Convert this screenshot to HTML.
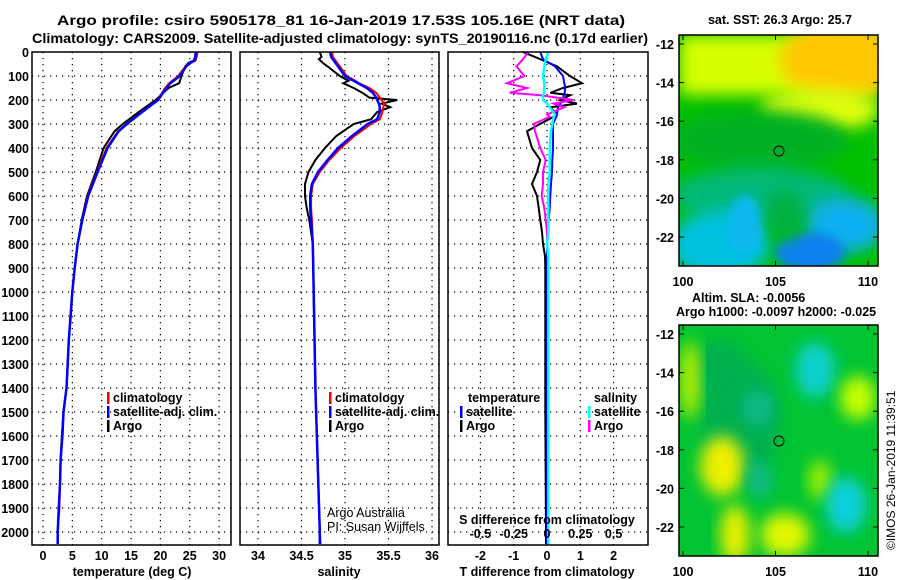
<!DOCTYPE html>
<html><head><meta charset="utf-8"><style>
html,body{margin:0;padding:0;background:#fff;}
svg{display:block;font-family:"Liberation Sans",Arial,sans-serif;}
.b{font-weight:bold;font-size:14px;}
.t{font-weight:bold;font-size:12.5px;}
</style></head><body>
<svg id="chart" width="900" height="580" viewBox="0 0 900 580">
<defs>
<filter id="blur8" x="-30%" y="-30%" width="160%" height="160%"><feGaussianBlur stdDeviation="8"/></filter>
<filter id="blur5" x="-30%" y="-30%" width="160%" height="160%"><feGaussianBlur stdDeviation="5"/></filter>
<clipPath id="m1"><rect x="679" y="35" width="199" height="231"/></clipPath>
<clipPath id="m2"><rect x="679" y="325" width="199" height="231"/></clipPath>
</defs>
<text x="57" y="25" class="b" textLength="568" lengthAdjust="spacingAndGlyphs">Argo profile: csiro 5905178_81 16-Jan-2019 17.53S 105.16E (NRT data)</text>
<text x="32" y="43" class="b" textLength="616" lengthAdjust="spacingAndGlyphs">Climatology: CARS2009. Satellite-adjusted climatology: synTS_20190116.nc (0.17d earlier)</text>
<g id="grid"></g>
<g id="lines"></g>
<g id="frames"></g>
<g id="labels"></g>

<!-- SST map -->
<g clip-path="url(#m1)">
<rect x="679" y="35" width="199" height="231" fill="#00c000"/>
<rect x="679" y="35" width="199" height="60" fill="#d8ff00" filter="url(#blur8)"/>
<ellipse cx="840" cy="60" rx="60" ry="40" fill="#ffc800" filter="url(#blur8)"/>
<ellipse cx="820" cy="110" rx="60" ry="22" fill="#e0ff10" filter="url(#blur8)"/>
<ellipse cx="760" cy="140" rx="90" ry="30" fill="#00b020" filter="url(#blur8)"/>
<ellipse cx="760" cy="195" rx="90" ry="28" fill="#00b878" filter="url(#blur8)"/>
<ellipse cx="720" cy="245" rx="50" ry="35" fill="#00c0e0" filter="url(#blur8)"/>
<ellipse cx="845" cy="225" rx="40" ry="28" fill="#10b0f0" filter="url(#blur8)"/>
<ellipse cx="810" cy="252" rx="35" ry="20" fill="#1080f0" filter="url(#blur5)"/>
<ellipse cx="745" cy="225" rx="18" ry="30" fill="#10b8f0" filter="url(#blur5)"/>
<ellipse cx="785" cy="215" rx="18" ry="25" fill="#00b040" filter="url(#blur8)"/>
</g>
<circle cx="779" cy="151" r="5" fill="none" stroke="#000" stroke-width="1"/>
<rect x="679" y="35" width="199" height="231" fill="none" stroke="#000" stroke-width="1.5"/>
<text x="780" y="24" text-anchor="middle" class="t">sat. SST: 26.3 Argo: 25.7</text>

<!-- SLA map -->
<g clip-path="url(#m2)">
<rect x="679" y="325" width="199" height="231" fill="#00c432"/>
<ellipse cx="740" cy="420" rx="40" ry="60" fill="#00b050" filter="url(#blur8)"/>
<ellipse cx="720" cy="370" rx="25" ry="30" fill="#00b050" filter="url(#blur8)"/>
<ellipse cx="815" cy="370" rx="20" ry="28" fill="#10d0d0" filter="url(#blur8)"/>
<ellipse cx="758" cy="408" rx="15" ry="18" fill="#10b890" filter="url(#blur8)"/>
<ellipse cx="858" cy="398" rx="18" ry="22" fill="#c8ff00" filter="url(#blur8)"/>
<ellipse cx="722" cy="466" rx="22" ry="30" fill="#f0f000" filter="url(#blur8)"/>
<ellipse cx="735" cy="535" rx="15" ry="30" fill="#e8f000" filter="url(#blur8)"/>
<ellipse cx="785" cy="535" rx="25" ry="22" fill="#e0f800" filter="url(#blur8)"/>
<ellipse cx="820" cy="480" rx="12" ry="20" fill="#a0f000" filter="url(#blur8)"/>
<ellipse cx="846" cy="505" rx="20" ry="28" fill="#10d0e0" filter="url(#blur8)"/>
<ellipse cx="690" cy="380" rx="10" ry="40" fill="#c0f000" filter="url(#blur8)"/>
<ellipse cx="760" cy="480" rx="12" ry="18" fill="#10b890" filter="url(#blur8)"/>
</g>
<circle cx="779" cy="441" r="5" fill="none" stroke="#000" stroke-width="1"/>
<rect x="679" y="325" width="199" height="231" fill="none" stroke="#000" stroke-width="1.5"/>
<text x="692" y="302" class="t">Altim. SLA: -0.0056</text>
<text x="676" y="316" class="t">Argo h1000: -0.0097 h2000: -0.025</text>
<text x="895" y="550" transform="rotate(-90 895 550)" font-size="12">©IMOS 26-Jan-2019 11:39:51</text>
<g id="maplabels"></g>
</svg>
<script>
// data arrays
const depthTicks=[0,100,200,300,400,500,600,700,800,900,1000,1100,1200,1300,1400,1500,1600,1700,1800,1900,2000];
const tempTicks=[0,5,10,15,20,25,30];
const salTicks=[34,34.5,35,35.5,36];
const salTickLabels=["34","34.5","35","35.5","36"];
const tdiffTicks=[-2,-1,0,1,2];
const sdiffTicks=[-0.5,-0.25,0,0.25,0.5];
const sdiffTickLabels=["-0.5","-0.25","0","0.25","0.5"];
const tDepth=[0,20,35,45,60,100,130,150,200,250,300,330,400,500,600,700,800,900,1000,1100,1200,1300,1400,1500,1600,1700,1800,1900,2000,2050];
const tArgo=[26.0,25.9,25.7,24.8,24.2,23.6,23.2,21.4,19.2,16.3,13.6,12.2,10.3,9.0,7.5,6.6,5.9,5.4,5.0,4.7,4.4,4.2,4.0,3.5,3.2,3.0,2.9,2.7,2.5,2.5];
const tClim=[26.3,26.2,26.0,25.2,24.3,23.0,21.5,20.8,19.5,16.8,14.2,12.8,10.8,9.2,7.6,6.7,5.9,5.4,5.0,4.7,4.4,4.2,4.0,3.5,3.3,3.0,2.9,2.8,2.5,2.5];
const tSat=[26.1,26.0,25.9,25.1,24.4,23.3,21.7,21.0,19.6,16.9,14.3,12.9,11.0,9.3,7.7,6.7,5.9,5.4,5.0,4.7,4.4,4.2,4.0,3.5,3.3,3.0,2.9,2.7,2.5,2.5];
const sDepth=[0,20,30,50,60,100,120,130,150,170,190,200,215,230,250,280,300,350,400,450,500,550,600,650,700,800,1000,1400,2000,2050];
const sArgo=[34.71,34.73,34.70,34.76,34.80,34.94,35.04,34.98,35.10,35.20,35.28,35.60,35.42,35.52,35.37,35.30,35.10,34.90,34.77,34.66,34.58,34.54,34.54,34.56,34.59,34.63,34.64,34.66,34.71,34.71];
const sClim=[34.85,34.86,34.88,34.92,34.94,35.02,35.12,35.16,35.28,35.36,35.40,35.42,35.45,35.44,35.43,35.40,35.30,35.11,34.95,34.82,34.71,34.63,34.61,34.61,34.62,34.63,34.64,34.66,34.71,34.72];
const sSat=[34.83,34.84,34.86,34.90,34.92,35.00,35.10,35.15,35.25,35.32,35.36,35.37,35.39,35.40,35.40,35.37,35.26,35.08,34.92,34.80,34.69,34.62,34.60,34.60,34.61,34.63,34.64,34.66,34.71,34.71];
const dDepth=[0,30,60,100,130,150,170,180,200,215,230,260,270,300,330,400,450,500,550,600,650,700,750,800,850,900,1200,1500,2000,2050];
const dtArgo=[-0.72,-0.2,0.3,0.69,1.05,0.48,0.1,0.7,0.39,0.9,0.1,0.3,0.2,-0.21,-0.6,-0.45,-0.2,-0.3,-0.45,-0.3,-0.25,-0.2,-0.15,-0.12,-0.06,-0.05,-0.05,-0.05,-0.03,-0.03];
const dtSat=[-0.2,-0.12,0.24,0.48,0.52,0.55,0.53,0.5,0.48,0.4,0.33,0.3,0.28,0.18,0.18,0.18,0.16,0.15,0.12,0.1,0.08,0.05,0.03,0.01,0,0,0,0,0,0];
const dsArgo=[-0.14,-0.18,-0.23,-0.17,-0.3,-0.15,-0.28,-0.05,0.2,0.05,0.13,0.0,0.02,-0.1,-0.09,-0.05,-0.01,-0.03,-0.03,-0.04,-0.02,-0.01,0,0,0.01,0.01,0.01,0.01,0.01,0.01];
const dsSat=[0.01,-0.01,-0.02,-0.03,-0.02,-0.02,-0.02,-0.03,-0.03,0.0,0.02,0.06,0.05,0.04,0.03,0.02,0.02,0.02,0.01,0.01,0.01,0.01,0.01,0.0,0.01,0.01,0.01,0.01,0.01,0.01];
const latTicks=[-12,-14,-16,-18,-20,-22];
const lonTicks=[100,105,110];

const NS='http://www.w3.org/2000/svg';
function mk(tag,at,parent){const e=document.createElementNS(NS,tag);for(const k in at)e.setAttribute(k,at[k]);parent.appendChild(e);return e;}
const Y=d=>52+d*0.24;
const xT=v=>43+v*5.87;
const xS=v=>258+(v-34)*87;
const xDT=v=>547+v*33.3;
const xDS=v=>547+v*133.2;
const P=[[32,231],[240,439],[448,648]];
const B=545;
const grid=document.getElementById('grid'),lines=document.getElementById('lines'),fr=document.getElementById('frames'),lab=document.getElementById('labels');
const dot={stroke:'#000','stroke-width':1.2,'stroke-dasharray':'1.2 4.8'};
P.forEach(p=>depthTicks.forEach(d=>{if(d>0){const l=mk('line',Object.assign({x1:p[0],x2:p[1],y1:Y(d),y2:Y(d)},dot),grid);}}));
tempTicks.forEach(v=>{const l=mk('line',Object.assign({x1:xT(v),x2:xT(v),y1:52,y2:B},dot),grid);});
salTicks.forEach(v=>{const l=mk('line',Object.assign({x1:xS(v),x2:xS(v),y1:52,y2:B},dot),grid);});
tdiffTicks.forEach(v=>{const l=mk('line',Object.assign({x1:xDT(v),x2:xDT(v),y1:52,y2:B},dot),grid);});
function poly(xs,ds,fx,color,w,name){const pts=xs.map((v,i)=>fx(v).toFixed(1)+','+Y(ds[i]).toFixed(1)).join(' ');const e=mk('polyline',{points:pts,fill:'none',stroke:color,'stroke-width':w,'stroke-linejoin':'miter'},lines);}
poly(tArgo,tDepth,xT,'#000',2,'temp-argo-line');
poly(tClim,tDepth,xT,'#f00',2,'temp-clim-line');
poly(tSat,tDepth,xT,'#00f',2.5,'temp-sat-line');
poly(sArgo,sDepth,xS,'#000',2,'sal-argo-line');
poly(sClim,sDepth,xS,'#f00',2,'sal-clim-line');
poly(sSat,sDepth,xS,'#00f',2.5,'sal-sat-line');
poly(dtArgo,dDepth,xDT,'#000',2,'tdiff-argo-line');
poly(dtSat,dDepth,xDT,'#00f',2,'tdiff-sat-line');
poly(dsArgo,dDepth,xDS,'#f0f',2,'sdiff-argo-line');
poly(dsSat,dDepth,xDS,'#0ff',2.5,'sdiff-sat-line');
P.forEach((p,i)=>{const r=mk('rect',{x:p[0],y:52,width:p[1]-p[0],height:B-52,fill:'none',stroke:'#000','stroke-width':1.5},fr);});
function txt(x,y,s,anchor,name,extra){const t=mk('text',Object.assign({x:x,y:y,'text-anchor':anchor||'start',class:'t'},extra||{}),lab);t.textContent=s;return t;}
depthTicks.forEach(d=>txt(29,Y(d)+5,String(d),'end','depth-tick-label'));
tempTicks.forEach(v=>txt(xT(v),560,String(v),'middle','temp-tick-label'));
salTicks.forEach((v,i)=>txt(xS(v),560,salTickLabels[i],'middle','sal-tick-label'));
tdiffTicks.forEach(v=>txt(xDT(v),560,String(v),'middle','tdiff-tick-label'));
sdiffTicks.forEach((v,i)=>txt(xDS(v),538,sdiffTickLabels[i],'middle','sdiff-tick-label'));
txt(132,576,'temperature (deg C)','middle','x-axis-title-temp');
txt(339,576,'salinity','middle','x-axis-title-sal');
txt(547,576,'T difference from climatology','middle','x-axis-title-tdiff');
txt(547,524,'S difference from climatology','middle','x-axis-title-sdiff');
function leg(x,y,color,s,name){const r=mk('rect',{x:x,y:y-10,width:2.5,height:12,fill:color},lab);txt(x+6,y,s,'start',name);}
leg(107,402,'#f00','climatology','legend-climatology');
leg(107,416,'#00f','satellite-adj. clim.','legend-satellite');
leg(107,430,'#000','Argo','legend-argo');
leg(329,402,'#f00','climatology','legend-sal-climatology');
leg(329,416,'#00f','satellite-adj. clim.','legend-sal-satellite');
leg(329,430,'#000','Argo','legend-sal-argo');
txt(468,402,'temperature','start','legend-temperature-heading');
leg(460,416,'#00f','satellite','legend-tdiff-satellite');
leg(460,430,'#000','Argo','legend-tdiff-argo');
txt(594,402,'salinity','start','legend-salinity-heading');
leg(588,416,'#0ff','satellite','legend-sdiff-satellite');
leg(588,430,'#f0f','Argo','legend-sdiff-argo');
const a1=txt(327,517,'Argo Australia','start','credit-argo-australia');a1.setAttribute('class','');a1.setAttribute('font-size','12.5');
const a2=txt(327,531,'PI: Susan Wijffels','start','credit-pi');a2.setAttribute('class','');a2.setAttribute('font-size','12.5');
const ml=document.getElementById('maplabels');
function mt(x,y,s,anchor,name){const t=mk('text',{x:x,y:y,'text-anchor':anchor,class:'t'},ml);t.textContent=s;}
const lat1=v=>44+(-12-v)*19.3, lat2=v=>334+(-12-v)*19.3, lonX=v=>683+(v-100)*18.5;
latTicks.forEach(v=>{mt(674,lat1(v)+5,String(v),'end','sst-lat-label');mt(674,lat2(v)+5,String(v),'end','sla-lat-label');
 [lat1(v),lat2(v)].forEach(y=>{mk('line',{x1:679,x2:684,y1:y,y2:y,stroke:'#000'},ml);mk('line',{x1:873,x2:878,y1:y,y2:y,stroke:'#000'},ml);});});
lonTicks.forEach(v=>{mt(lonX(v),286,String(v),'middle','sst-lon-label');mt(lonX(v),576,String(v),'middle','sla-lon-label');
 [[35,266],[325,556]].forEach(r=>{mk('line',{x1:lonX(v),x2:lonX(v),y1:r[1]-5,y2:r[1],stroke:'#000'},ml);mk('line',{x1:lonX(v),x2:lonX(v),y1:r[0],y2:r[0]+5,stroke:'#000'},ml);});});
</script>
</body></html>
